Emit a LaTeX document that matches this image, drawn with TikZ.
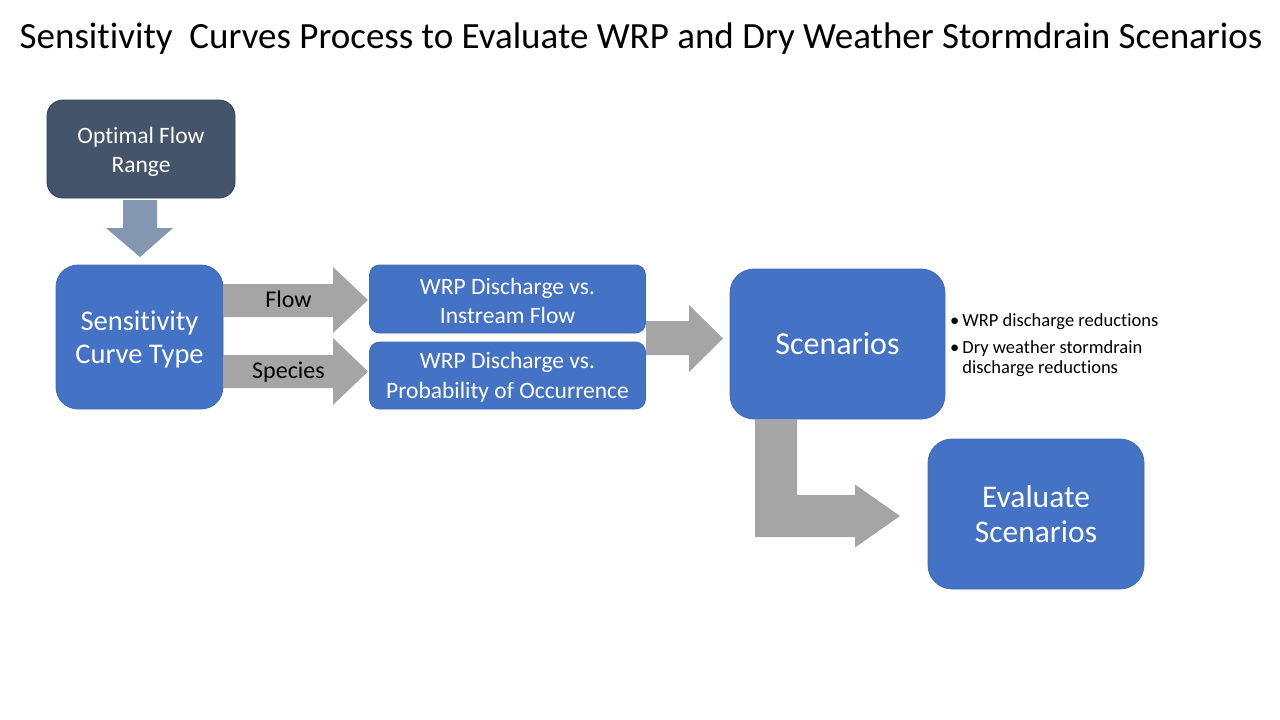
\documentclass[tikz,border=0pt]{standalone}
\usepackage{fontspec}
\setmainfont{Carlito}[Ligatures=NoCommon]
\usetikzlibrary{calc}
\definecolor{boxblue}{HTML}{4472C4}
\definecolor{boxblueline}{HTML}{3F6AB8}
\definecolor{boxdark}{HTML}{44546A}
\definecolor{boxdarkline}{HTML}{2F3E52}
\definecolor{arrgray}{HTML}{A5A5A5}
\definecolor{arrslate}{HTML}{8497B0}
\tikzset{
  bluebox/.style={fill=boxblue, draw=boxblueline, line width=0.8pt, rounded corners=#1, text=white, align=center, inner sep=0pt},
  bluebox/.default=12pt,
  darkbox/.style={fill=boxdark, draw=boxdarkline, line width=0.8pt, rounded corners=16pt, text=white, align=center, inner sep=0pt},
  boxtext/.style={text=white, align=center, inner sep=0pt},
  garrow/.style={fill=arrgray},
  sarrow/.style={fill=arrslate},
  lbl/.style={text=black, inner sep=0pt}
}
\begin{document}
\begin{tikzpicture}[x=1pt,y=-1pt]
\useasboundingbox[fill=white] (0,0) rectangle (1280,720);
% title
\node[lbl, anchor=base, font=\fontsize{37}{42}\selectfont] (title) at (641,48) {Sensitivity\ \ Curves Process to Evaluate WRP and Dry Weather Stormdrain Scenarios};
% boxes
\node[darkbox, minimum width=188pt, minimum height=98pt] (ofr) at (141,149) {};
\node[boxtext, font=\fontsize{23.5}{28.4}\selectfont, yshift=-3pt] (ofrt) at (ofr.center) {Optimal Flow\\Range};
\node[bluebox=22pt, minimum width=167pt, minimum height=144pt] (sct) at (139.5,337) {};
\node[boxtext, font=\fontsize{28.5}{33}\selectfont, yshift=-2pt] (sctt) at (sct.center) {Sensitivity\\Curve Type};
\node[bluebox=10pt, minimum width=276pt, minimum height=68pt] (wrp1) at (507.5,299) {};
\node[boxtext, font=\fontsize{23.5}{29}\selectfont, yshift=-2pt] (wrp1t) at (wrp1.center) {WRP Discharge vs.\\Instream Flow};
\node[bluebox=10pt, minimum width=276pt, minimum height=67pt] (wrp2) at (507.5,375.5) {};
\node[boxtext, font=\fontsize{23.5}{30}\selectfont, yshift=-2pt] (wrp2t) at (wrp2.center) {WRP Discharge vs.\\Probability of Occurrence};
\node[bluebox=24pt, minimum width=215pt, minimum height=150pt, font=\fontsize{32}{36}\selectfont] (scen) at (837.5,344) {Scenarios};
\node[bluebox=24pt, minimum width=216pt, minimum height=150pt, font=\fontsize{31.5}{35}\selectfont] (eval) at (1036,514) {Evaluate\\Scenarios};
% bullets
\node[lbl, anchor=north west, align=left, font=\fontsize{18.5}{20.5}\selectfont] (bul) at (950,312) {%
\begin{tabular}{@{}l@{\hspace{3pt}}l@{}}
• & WRP discharge reductions\\[6pt]
• & Dry weather stormdrain\\
 & discharge reductions
\end{tabular}};
% down arrow
\fill[sarrow] (123,200) -- (157,200) -- (157,228) -- (173,228) -- (140,257) -- (106,228) -- (123,228) -- cycle;
% flow arrow
\fill[garrow] (223,284) -- (333,284) -- (333,267) -- (368,300) -- (333,333) -- (333,317) -- (223,317) -- cycle;
\node[lbl, anchor=base, font=\fontsize{24}{28}\selectfont] (flowl) at (288.5,307) {Flow};
% species arrow
\fill[garrow] (223,355) -- (333,355) -- (333,338) -- (368,371.5) -- (333,405) -- (333,388) -- (223,388) -- cycle;
\node[lbl, anchor=base, font=\fontsize{24}{28}\selectfont] (specl) at (288.5,378) {Species};
% to scenarios
\fill[garrow] (646,321) -- (689,321) -- (689,305) -- (723,338.5) -- (689,372) -- (689,355) -- (646,355) -- cycle;
% bent arrow
\fill[garrow] (755,419) -- (797,419) -- (797,495) -- (855,495) -- (855,484.5) -- (900,516) -- (855,547.5) -- (855,537) -- (755,537) -- cycle;
\end{tikzpicture}
\end{document}
